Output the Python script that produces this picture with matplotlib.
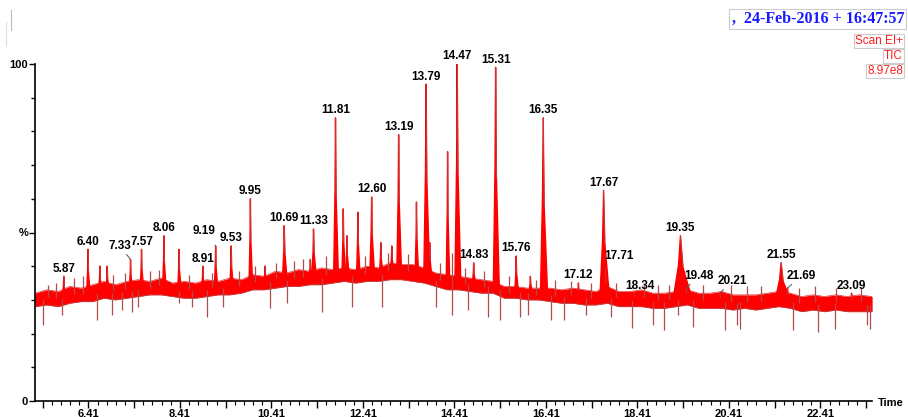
import numpy as np
import matplotlib
matplotlib.use("Agg")
import matplotlib.pyplot as plt
from matplotlib.lines import Line2D
from matplotlib import font_manager

# ---------------- data ----------------
# baseline noise band (time in min, lower / upper % level)
band_t = [5.24, 5.5, 5.75, 6.0, 6.25, 6.5, 6.75, 7.0, 7.25, 7.5, 7.75, 8.0, 8.25, 8.5, 8.75,
          9.0, 9.25, 9.5, 9.75, 10.0, 10.25, 10.5, 10.75, 11.0, 11.25, 11.5, 11.75, 12.0,
          12.25, 12.5, 12.75, 13.0, 13.25, 13.5, 13.75, 14.0, 14.25, 14.5, 14.75, 15.0,
          15.25, 15.5, 15.75, 16.0, 16.25, 16.5, 16.75, 17.0, 17.25, 17.5, 17.75, 18.0,
          18.25, 18.5, 18.75, 19.0, 19.25, 19.5, 19.75, 20.0, 20.25, 20.5, 20.75, 21.0,
          21.25, 21.5, 21.75, 22.0, 22.25, 22.5, 22.75, 23.0, 23.25, 23.54]
band_lo = [28, 28.5, 28, 29, 29.5, 29.5, 30.5, 30, 30.5, 31, 31.5, 31.5, 31, 30.5, 30.5,
           31, 31.5, 31.5, 32, 33, 33, 33.5, 34, 34, 34.5, 34.5, 35, 35.5,
           35, 35.5, 35.5, 36, 36, 35.5, 35, 34, 33, 33, 32.5, 32,
           32, 30.5, 30.5, 30, 30, 29.5, 29, 29, 28.5, 28.5, 29, 28,
           28, 28, 27.5, 27.5, 28, 28.5, 27.5, 27.5, 27.5, 27, 27.5, 27,
           27.5, 28, 27.5, 26.5, 27, 26.5, 27, 26.5, 26.5, 26.5]
band_hi = [32, 33, 32.5, 34, 33.5, 34.5, 35.5, 34.5, 35.5, 36, 35.5, 36.5, 35, 35.5, 35,
           36, 35.5, 36.5, 36, 37.5, 37, 38.5, 38, 39, 38.5, 39.5, 39, 39.5,
           39, 40, 39.5, 41, 40.5, 40.5, 39.5, 38, 37.5, 37, 36.5, 36,
           35.5, 34, 34, 33.5, 33.5, 33.5, 33, 33.5, 33, 32.5, 34, 32.5,
           32.5, 33, 32, 32, 32.5, 33, 32, 32, 32.5, 31.5, 31.5, 31.5,
           32, 32.5, 32, 31, 31.5, 31, 31.5, 31, 31.5, 31]

# chromatographic peaks: retention time, apex height (%), foot half-width (min), label
peak_t = [5.87, 6.40, 6.66, 6.82, 7.33, 7.57, 8.06, 8.39, 8.91, 9.19, 9.53, 9.95, 10.27, 10.69,
          11.26, 11.33, 11.81, 11.98, 12.06, 12.30, 12.60, 12.80, 13.04, 13.19, 13.58, 13.79,
          13.87, 14.26, 14.47, 14.83, 15.31, 15.76, 16.07, 16.35, 17.12, 17.67, 17.71, 18.34,
          19.35, 19.48, 20.21, 21.55, 21.69, 23.09]
peak_h = [37, 45, 40, 40, 42, 45, 49, 45, 40, 46, 46, 60, 40, 52,
          42, 51, 84, 57, 49, 56, 60.5, 47, 46, 79, 59, 94,
          47, 74, 100, 41, 99, 43, 37, 84, 35, 62.5, 39, 32,
          49, 33.5, 32, 41, 33.5, 32]
peak_w = [0.03, 0.03, 0.03, 0.03, 0.03, 0.03, 0.03, 0.03, 0.03, 0.03, 0.03, 0.03, 0.03, 0.04,
          0.03, 0.04, 0.04, 0.03, 0.03, 0.03, 0.04, 0.03, 0.03, 0.04, 0.03, 0.05,
          0.03, 0.03, 0.05, 0.03, 0.05, 0.03, 0.03, 0.06, 0.03, 0.08, 0.03, 0.03,
          0.16, 0.03, 0.03, 0.13, 0.03, 0.03]
peak_lbl = ["5.87", "6.40", "", "", "7.33", "7.57", "8.06", "", "8.91", "9.19", "9.53", "9.95", "", "10.69",
            "", "11.33", "11.81", "", "", "", "12.60", "", "", "13.19", "", "13.79",
            "", "", "14.47", "14.83", "15.31", "15.76", "", "16.35", "17.12", "17.67", "17.71", "18.34",
            "19.35", "19.48", "20.21", "21.55", "21.69", "23.09"]

# small upward noise spikes: time, top level (%)
spike_t = [5.53, 5.70, 6.10, 6.30, 6.95, 7.20, 7.75, 7.95, 8.60, 9.10, 9.70, 10.05, 10.50,
           10.90, 11.10, 11.60, 12.45, 12.95, 13.40, 14.10, 14.36, 14.65, 15.05, 15.60,
           16.20, 16.60, 16.95, 17.40, 17.95, 18.55, 18.85, 19.10, 19.85, 20.45, 20.80,
           21.10, 21.95, 22.30, 22.75, 23.30]
spike_v = [34.5, 35, 36.5, 37, 37.5, 38, 38.5, 39, 37.5, 38, 38.5, 40, 41,
           41.5, 42, 43, 43, 44, 43.5, 41, 44, 39.5, 38.5, 37,
           36, 36, 35.5, 35, 35, 35, 34.5, 34.5, 34.5, 34.5, 34,
           34, 33.5, 34, 33.5, 33.5]

# downward noise spikes: time, lowest level (%)
dip_t = [5.42, 5.84, 6.60, 6.92, 7.14, 7.36, 7.49, 8.38, 8.68, 9.00, 9.35, 10.38, 10.75,
         11.52, 12.17, 12.83, 14.01, 14.36, 14.71, 15.15, 15.41, 15.85, 16.02, 16.51, 16.81,
         17.29, 17.83, 18.30, 18.74, 18.98, 19.29, 19.62, 20.33, 20.59, 20.66, 21.81,
         22.36, 22.73, 23.42, 23.49]
dip_v = [22.5, 25.5, 24, 25.5, 27, 26.5, 28, 29, 28, 25, 28, 27.5, 29,
         26.5, 28, 28, 28, 25.5, 27, 25, 24, 25, 25.5, 24, 24,
         25.5, 25, 21.7, 22.5, 21, 25.5, 22, 21, 22.5, 21.5, 21,
         20.5, 21.5, 22.5, 21.5]

x_major = [5.41, 6.41, 7.41, 8.41, 9.41, 10.41, 11.41, 12.41, 13.41, 14.41, 15.41, 16.41,
           17.41, 18.41, 19.41, 20.41, 21.41, 22.41, 23.41]
x_labels = ["", "6.41", "", "8.41", "", "10.41", "", "12.41", "", "14.41", "", "16.41",
            "", "18.41", "", "20.41", "", "22.41", ""]

header_text = ",  24-Feb-2016 + 16:47:57"
info_lines = ["Scan EI+", "TIC", "8.97e8"]

# ---------------- fonts ----------------
names = {f.name for f in font_manager.fontManager.ttflist}
if "Liberation Sans Narrow" in names:
    LBL = dict(family="Liberation Sans Narrow", weight="bold", size=10)
    TCK = dict(family="Liberation Sans Narrow", weight="bold", size=9.5)
else:
    LBL = dict(family="Liberation Sans", weight="bold", size=8.5)
    TCK = dict(family="Liberation Sans", weight="bold", size=8)

# ---------------- figure ----------------
W, H = 908, 417
fig = plt.figure(figsize=(W / 100, H / 100), dpi=100)
ax = fig.add_axes([35 / W, 16 / H, (872 - 35) / W, (401 - 64) / H])
ax.set_xlim(5.242, 23.537)
ax.set_ylim(0, 100)

RED = "#ff0000"
DARK = "#b04c4c"

# baseline band
ax.fill_between(band_t, band_lo, band_hi, color=RED, lw=0, zorder=2)
ax.plot(band_t, band_lo, color=DARK, lw=0.5, zorder=2)
ax.plot(band_t, band_hi, color="#e03030", lw=0.5, zorder=2)

# noise spikes
lo_at = np.interp(dip_t, band_t, band_lo)
ax.vlines(dip_t, dip_v, lo_at + 2, color=DARK, lw=0.9, zorder=2)
hi_at = np.interp(spike_t, band_t, band_hi)
ax.vlines(spike_t, hi_at - 2, spike_v, color=DARK, lw=0.9, zorder=2)

# peaks
foot = np.interp(peak_t, band_t, band_lo) + 2
for t, h, w, f in zip(peak_t, peak_h, peak_w, foot):
    xs = [t - w, t - w * 0.25, t, t + w * 0.35, t + w * 1.6]
    ys = [f, f + (h - f) * 0.55, h, f + (h - f) * 0.5, f]
    ax.fill(xs, ys, color=RED, lw=0, zorder=3)
    ax.plot(xs, ys, color=RED, lw=1.0, zorder=3)
    ax.plot([t, t + w * 0.35], [h, f + (h - f) * 0.5], color=DARK, lw=0.6, zorder=3)

# peak labels
leader = {"7.33": (-8, 10), "9.19": (-8, 11), "17.71": (10, 10), "19.48": (9, 9),
          "20.21": (9, 9), "21.69": (10, 9)}
for t, h, s in zip(peak_t, peak_h, peak_lbl):
    if not s:
        continue
    if s in leader:
        dx, dy = leader[s]
        ax.annotate(s, xy=(t, h), xytext=(dx, dy), textcoords="offset points",
                    ha="center", va="center", zorder=5,
                    arrowprops=dict(arrowstyle="-", color="#555555", lw=0.7,
                                    shrinkA=5, shrinkB=0), **LBL)
    else:
        dx = 4 if s == "18.34" else 0
        ax.annotate(s, xy=(t, h), xytext=(dx, 5.5), textcoords="offset points",
                    ha="center", va="center", zorder=5, **LBL)

# axes styling
for sp in ["top", "right"]:
    ax.spines[sp].set_visible(False)
ax.spines["left"].set_linewidth(1.2)
ax.spines["bottom"].set_linewidth(1.2)

ax.set_yticks([0, 50, 100])
ax.set_yticklabels(["0", "%", "100"], **TCK)
ax.set_yticks(np.arange(0, 101, 10), minor=True)
ax.tick_params(axis="y", which="major", length=4, width=1, pad=1)
ax.tick_params(axis="y", which="minor", length=3, width=1)

ax.set_xticks(x_major)
ax.set_xticklabels(x_labels, **TCK)
ax.set_xticks(np.arange(5.41, 23.54, 0.2), minor=True)
ax.tick_params(axis="x", which="major", length=5, width=1, pad=0.5)
ax.tick_params(axis="x", which="minor", length=3, width=0.8)

fig.text(878 / W, 1 - 403 / H, "Time", ha="left", va="center", **TCK)

# header
fig.text(904 / W, 1 - 19 / H, header_text, ha="right", va="center",
         family="Liberation Serif", weight="bold", size=11.5, color="#1a1aff",
         bbox=dict(boxstyle="square,pad=0.15", fc="white", ec="#cccccc", lw=0.8))
for i, s in enumerate(info_lines):
    fig.text(903 / W, 1 - (41 + 15 * i) / H, s, ha="right", va="center",
             family="Liberation Sans", size=8.5, color="#ff2020",
             bbox=dict(boxstyle="square,pad=0.1", fc="white", ec="#cccccc", lw=0.8))

# faint artefact lines at top-left
fig.add_artist(Line2D([11 / W, 11 / W], [1 - 10 / H, 1 - 30 / H], color="#bbbbbb", lw=0.8))
fig.add_artist(Line2D([6 / W, 6 / W], [1 - 22 / H, 1 - 46 / H], color="#dddddd", lw=0.8))

fig.savefig("out.png", dpi=100)
